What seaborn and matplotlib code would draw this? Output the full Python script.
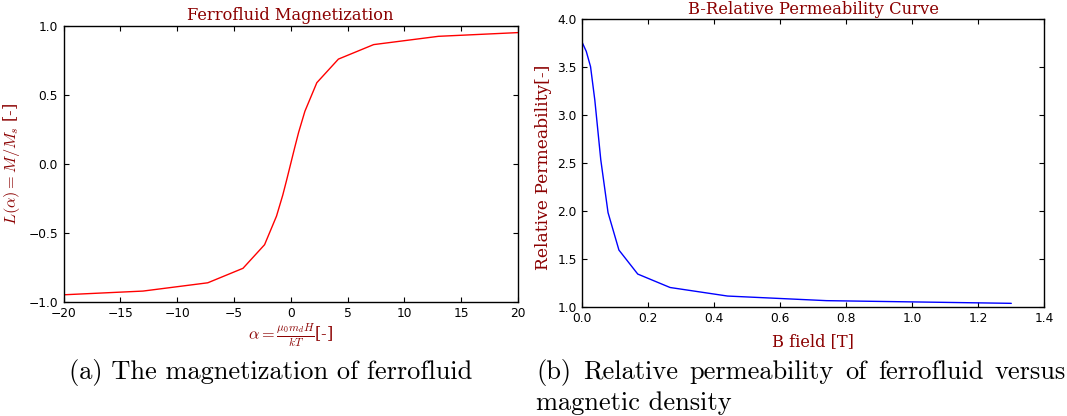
import matplotlib
matplotlib.use("Agg")
import matplotlib.pyplot as plt
import pandas as pd
import seaborn as sns

# left panel: Langevin curve
alpha = [-20, -13, -7.3, -4.2, -2.3, -1.25, -0.7, -0.35, 0,
         0.35, 0.7, 1.25, 2.3, 4.2, 7.3, 13, 20]
magnet = [-0.95, -0.923, -0.863, -0.758, -0.587, -0.38, -0.228, -0.116, 0.0,
          0.116, 0.228, 0.38, 0.587, 0.758, 0.863, 0.923, 0.95]

# right panel: relative permeability vs B
b_field = [0.0, 0.012, 0.025, 0.038, 0.056, 0.078, 0.111, 0.168, 0.266,
           0.44, 0.74, 1.30]
mu_rel = [3.75, 3.66, 3.50, 3.15, 2.53, 1.98, 1.59, 1.34, 1.20,
          1.111, 1.063, 1.035]

left_xticks = [-20, -15, -10, -5, 0, 5, 10, 15, 20]
left_yticks = [-1.0, -0.5, 0.0, 0.5, 1.0]
right_xticks = [0.0, 0.2, 0.4, 0.6, 0.8, 1.0, 1.2, 1.4]
right_yticks = [1.0, 1.5, 2.0, 2.5, 3.0, 3.5, 4.0]

LABEL = "#8b0000"
SERIF = "DejaVu Serif"
W, H = 1067, 416


def style_axes(ax):
    ax.tick_params(direction="in", top=True, right=True, bottom=True, left=True,
                   length=3.5, width=0.8, labelsize=8.8, pad=4, colors="black")
    for sp in ax.spines.values():
        sp.set_color("black")
        sp.set_linewidth(1.0)
    ax.grid(False)


def justify(fig, words, x0, x1, y, size):
    r = fig.canvas.get_renderer()
    texts = [fig.text(0, y, w, fontsize=size, family="cmr10", color="black",
                      va="baseline", ha="left") for w in words]
    widths = [t.get_window_extent(r).width for t in texts]
    gap = (x1 - x0 - sum(widths)) / (len(words) - 1)
    x = x0
    for t, w in zip(texts, widths):
        t.set_x(x / W)
        x += w + gap


def main():
    sns.set_theme(style="white")
    plt.rcParams["font.family"] = ["DejaVu Sans"]
    plt.rcParams["mathtext.fontset"] = "cm"
    plt.rcParams["axes.unicode_minus"] = True
    plt.rcParams["text.color"] = "black"

    fig = plt.figure(figsize=(W / 100, H / 100), dpi=100)
    fig.patch.set_facecolor("white")

    ax1 = fig.add_axes([63.5 / W, 1 - 301.7 / H, 454.4 / W, 276 / H])
    df1 = pd.DataFrame({"alpha": alpha, "L": magnet})
    sns.lineplot(data=df1, x="alpha", y="L", ax=ax1, color="red", lw=1.0,
                 sort=False, estimator=None)
    ax1.set_xlim(-20, 20)
    ax1.set_ylim(-1, 1)
    ax1.set_xticks(left_xticks)
    ax1.set_yticks(left_yticks)
    style_axes(ax1)
    ax1.set_title("Ferrofluid Magnetization", color=LABEL, family=SERIF,
                  fontsize=11.7, pad=4)
    ax1.set_xlabel(r"$\alpha = \frac{\mu_0 m_d H}{kT}$[-]", color=LABEL,
                   family=SERIF, fontsize=11.7)
    ax1.set_ylabel(r"$L(\alpha) = M/M_s$ [-]", color=LABEL, family=SERIF,
                   fontsize=11.7)
    ax1.xaxis.set_label_coords(0.5, -0.07)
    ax1.yaxis.set_label_coords(-0.0913, 0.5)

    ax2 = fig.add_axes([582.3 / W, 1 - 306.7 / H, 462 / W, 288 / H])
    df2 = pd.DataFrame({"B": b_field, "mu": mu_rel})
    sns.lineplot(data=df2, x="B", y="mu", ax=ax2, color="blue", lw=1.0,
                 sort=False, estimator=None)
    ax2.set_xlim(0, 1.4)
    ax2.set_ylim(1, 4)
    ax2.set_xticks(right_xticks)
    ax2.set_yticks(right_yticks)
    style_axes(ax2)
    ax2.set_title("B-Relative Permeability Curve", color=LABEL, family=SERIF,
                  fontsize=11.8, pad=3.5)
    ax2.set_xlabel("B field [T]", color=LABEL, family=SERIF, fontsize=11.7)
    ax2.set_ylabel("Relative Permeability[-]", color=LABEL, family=SERIF,
                   fontsize=12.3)
    ax2.xaxis.set_label_coords(0.5, -0.092)
    ax2.yaxis.set_label_coords(-0.066, 0.485)

    fig.text(271 / W, 1 - 379 / H, "(a) The magnetization of ferrofluid",
             fontsize=19, family="cmr10", color="black", ha="center",
             va="baseline")
    justify(fig, "(b) Relative permeability of ferrofluid versus".split(),
            536, 1066, 1 - 379 / H, 19)
    fig.text(536 / W, 1 - 410 / H, "magnetic density", fontsize=19,
             family="cmr10", color="black", ha="left", va="baseline")

    fig.savefig("out.png", dpi=100)
    plt.close(fig)


if __name__ == "__main__":
    main()
